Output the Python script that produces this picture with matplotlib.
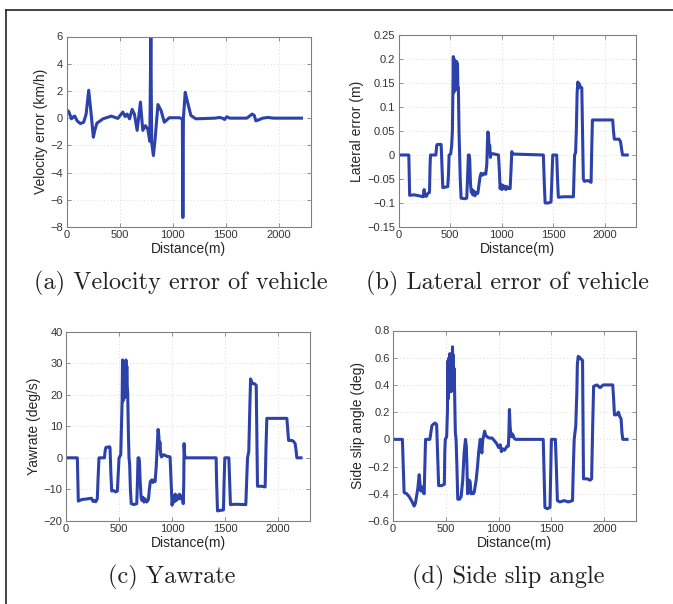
import matplotlib
matplotlib.use("Agg")
import matplotlib.pyplot as plt
from matplotlib.lines import Line2D

plt.rcParams["font.family"] = ["Liberation Sans", "DejaVu Sans"]

# ---------------- data ----------------
dist_ticks = [0, 500, 1000, 1500, 2000]
dist_tick_labels = ["0", "500", "1000", "1500", "2000"]

# (a) velocity error of vehicle (km/h)
vel_dist = [0, 20, 47, 65, 78, 100, 131, 162, 185, 209, 230, 253, 270, 287, 344,
            422, 484, 531, 553, 572, 594, 619, 640, 666, 697, 719, 744, 766, 785,
            795, 803, 819, 834, 862, 891, 922, 969, 1062, 1092, 1097, 1102, 1119,
            1141, 1172, 1219, 1400, 1440, 1470, 1490, 1510, 1540, 1700, 1750, 1770,
            1785, 1820, 1850, 1900, 1950, 2215]
vel_err = [0.6, 0.5, -0.05, 0.1, 0.15, -0.2, -0.4, -0.3, 0.3, 2.05, 0.5, -1.4,
           -0.8, -0.37, -0.05, 0.15, -0.02, 0.45, 0.12, 0.3, -0.05, 0.64, 0.3, -0.9,
           1.18, -0.9, -0.55, -0.8, -1.7, 5.95, -1.8, -2.75, -1.65, 1.0, 0.57, -0.3,
           0.03, 0.03, -0.05, -7.3, 0.0, 1.9, 1.18, 0.2, -0.05, 0.0, 0.05, 0.0, -0.1,
           0.1, 0.0, 0.0, 0.3, 0.2, -0.2, -0.1, 0.0, 0.05, 0.0, 0.0]

# (b) lateral error of vehicle (m)
lat_dist = [0, 100, 108, 150, 200, 240, 248, 256, 270, 284, 300, 306, 310, 362, 370,
            377, 413, 420, 429, 450, 477, 484, 490, 505, 515, 522, 527, 531, 535, 539,
            543, 547, 551, 555, 559, 563, 567, 571, 575, 580, 586, 592, 598, 606, 640,
            661, 668, 677, 685, 690, 697, 705, 712, 720, 730, 740, 752, 768, 780, 790,
            800, 815, 830, 845, 855, 862, 866, 872, 878, 884, 890, 897, 930, 968, 976,
            984, 992, 1000, 1010, 1020, 1030, 1040, 1050, 1060, 1070, 1081, 1090, 1097,
            1105, 1403, 1412, 1420, 1450, 1477, 1485, 1494, 1532, 1540, 1548, 1600,
            1694, 1700, 1705, 1715, 1722, 1730, 1737, 1745, 1752, 1760, 1775, 1782,
            1790, 1800, 1830, 1850, 1865, 1870, 1878, 2074, 2082, 2090, 2120, 2135,
            2150, 2162, 2170, 2215]
lat_err = [0, 0, -0.084, -0.083, -0.085, -0.087, -0.072, -0.085, -0.086, -0.08,
           -0.078, -0.02, 0, 0, 0.02, 0.022, 0.022, -0.02, -0.068, -0.067, -0.066,
           -0.04, 0, 0.002, 0.02, 0.05, 0.13, 0.205, 0.13, 0.2, 0.14, 0.19, 0.135,
           0.18, 0.14, 0.195, 0.14, 0.19, 0.14, 0.14, 0.05, 0.0, -0.05, -0.09, -0.091,
           -0.09, -0.05, 0, 0.0, -0.01, -0.06, -0.078, -0.072, -0.083, -0.075, -0.085,
           -0.078, -0.08, -0.06, -0.045, -0.038, -0.042, -0.038, -0.04, -0.02, 0.03,
           0.048, 0.04, 0.015, 0.02, -0.005, 0.003, 0.002, 0.0, -0.03, -0.07, -0.062,
           -0.072, -0.063, -0.07, -0.065, -0.072, -0.066, -0.07, -0.068, -0.07, -0.03,
           0.007, 0.002, 0, -0.06, -0.1, -0.1, -0.098, -0.05, 0, 0, -0.05, -0.088,
           -0.087, -0.087, -0.04, 0, 0.005, 0.05, 0.13, 0.152, 0.14, 0.148, 0.142,
           0.14, 0.05, -0.05, -0.055, -0.053, -0.055, -0.057, 0.0, 0.073, 0.073, 0.05,
           0.033, 0.033, 0.033, 0.028, 0.01, 0.0, 0.0]

# (c) yawrate (deg/s)
yaw_dist = [0, 107, 112, 116, 150, 200, 240, 255, 270, 280, 295, 303, 311, 362, 370,
            377, 410, 415, 423, 431, 450, 470, 484, 492, 500, 516, 524, 529, 533, 537,
            541, 545, 549, 553, 557, 561, 565, 569, 573, 577, 582, 588, 594, 600, 607,
            615, 640, 667, 673, 679, 687, 692, 700, 708, 715, 725, 735, 745, 760, 777,
            786, 795, 808, 820, 830, 840, 850, 862, 868, 875, 880, 885, 893, 900, 920,
            950, 981, 990, 1000, 1010, 1020, 1030, 1040, 1050, 1060, 1070, 1085, 1097,
            1105, 1110, 1113, 1118, 1126, 1415, 1420, 1428, 1460, 1484, 1490, 1497,
            1535, 1542, 1550, 1600, 1695, 1703, 1711, 1723, 1732, 1740, 1750, 1760,
            1774, 1793, 1800, 1805, 1840, 1877, 1885, 1893, 2082, 2090, 2098, 2130,
            2145, 2160, 2170, 2176, 2215]
yaw_rate = [0, 0, -8, -13.7, -13.2, -13, -12.8, -13.8, -13.5, -13.9, -13, -6, 0, 0,
            2.5, 3.3, 3.5, 3.2, -5, -10.5, -10.4, -10.8, -10.5, -5, 0, 1, 12, 18, 31,
            18, 29, 19, 30, 19, 28, 20, 31, 21, 29, 23, 20, 8, 0, -2, -10, -14.5,
            -14.8, -14.5, -8, 0, 0, -1, -8, -12.5, -13.5, -12.5, -14, -13, -14, -13.2,
            -10, -7.5, -7, -7.8, -7, -7.5, -3, 5, 9, 7, 3, 5, 1, 0.3, 1, 0.5, 0.3, -7,
            -15, -12, -14, -11.5, -13.5, -12, -13, -11.5, -13, -12, -14.5, -8, 4.5, 1,
            0, 0, -8, -16.8, -16.6, -16.5, -8, 0, 0, -7, -14.8, -14.7, -14.8, -7, 0, 2,
            15, 25, 24, 23.5, 23.5, 23, 5, -9, -9, -9.2, 3, 12.5, 12.5, 9, 5.5, 5.5,
            5.2, 4.5, 2, 0, 0]

# (d) side slip angle (deg)
slip_dist = [0, 89, 97, 105, 130, 152, 175, 200, 212, 222, 235, 248, 256, 264, 272,
             279, 287, 295, 302, 308, 349, 358, 368, 380, 397, 413, 422, 432, 460, 486,
             490, 495, 508, 515, 521, 525, 530, 534, 538, 542, 546, 550, 555, 559, 563,
             567, 571, 575, 579, 584, 590, 597, 605, 613, 630, 645, 660, 673, 686, 694,
             700, 706, 715, 722, 730, 738, 746, 760, 768, 787, 800, 810, 825, 833, 841,
             850, 857, 867, 877, 889, 910, 937, 960, 980, 1000, 1015, 1026, 1040, 1055,
             1064, 1080, 1092, 1097, 1102, 1108, 1118, 1128, 1137, 1145, 1159, 1422,
             1430, 1438, 1460, 1486, 1492, 1499, 1537, 1546, 1556, 1580, 1620, 1660,
             1699, 1707, 1715, 1730, 1740, 1745, 1753, 1770, 1780, 1794, 1798, 1803,
             1840, 1865, 1880, 1890, 1899, 1930, 1960, 1990, 2040, 2080, 2088, 2096,
             2115, 2134, 2145, 2159, 2167, 2175, 2215]
slip_angle = [0, 0, -0.2, -0.39, -0.4, -0.42, -0.45, -0.49, -0.47, -0.42, -0.36,
              -0.26, -0.33, -0.38, -0.36, -0.35, -0.39, -0.4, -0.2, 0, 0, 0.05, 0.1,
              0.11, 0.12, 0.11, -0.1, -0.34, -0.34, -0.33, -0.1, 0, 0.02, 0.2, 0.58,
              0.3, 0.6, 0.35, 0.63, 0.4, 0.6, 0.35, 0.6, 0.45, 0.68, 0.45, 0.62, 0.4,
              0.52, 0.3, 0.05, 0, -0.2, -0.44, -0.44, -0.42, -0.3, -0.1, 0, -0.05,
              -0.2, -0.4, -0.38, -0.3, -0.31, -0.4, -0.39, -0.4, -0.39, -0.3, -0.2,
              -0.1, 0, -0.05, -0.1, 0, 0.02, 0.06, 0.03, 0.02, 0.01, 0.01, -0.01,
              -0.03, -0.06, -0.04, -0.09, -0.07, -0.08, -0.07, -0.05, -0.05, 0.05,
              0.22, 0.1, 0.02, 0.04, 0.03, 0.01, 0, 0, -0.25, -0.5, -0.51, -0.5,
              -0.25, 0, 0, -0.2, -0.45, -0.46, -0.45, -0.46, -0.45, -0.2, 0, 0.1,
              0.35, 0.55, 0.61, 0.6, 0.59, 0.58, 0.2, -0.29, -0.29, -0.3, -0.29, 0.1,
              0.39, 0.4, 0.38, 0.4, 0.4, 0.4, 0.3, 0.18, 0.18, 0.2, 0.17, 0.15, 0.05,
              0, 0]

vel_ticks = [-8, -6, -4, -2, 0, 2, 4, 6]
lat_ticks = [-0.15, -0.1, -0.05, 0, 0.05, 0.1, 0.15, 0.2, 0.25]
yaw_ticks = [-20, -10, 0, 10, 20, 30, 40]
slip_ticks = [-0.6, -0.4, -0.2, 0, 0.2, 0.4, 0.6, 0.8]

# ---------------- figure ----------------
W, H = 673, 604
fig = plt.figure(figsize=(W / 100, H / 100), dpi=100)
fig.patch.set_facecolor("white")

LINE_COLOR = "#2d41aa"
SPINE_COLOR = "#808080"
TEXT_COLOR = "#262626"


def px_rect(left, top, right, bottom):
    return [left / W, 1 - bottom / H, (right - left) / W, (bottom - top) / H]


def tick_text(v):
    s = f"{v:g}"
    return s.replace("-", "\u2212")


panels = [
    (px_rect(66.5, 36.5, 310.5, 227), vel_dist, vel_err, vel_ticks,
     "Velocity error (km/h)", "(a) Velocity error of vehicle", (181, 283)),
    (px_rect(398.5, 35, 636, 227), lat_dist, lat_err, lat_ticks,
     "Lateral error (m)", "(b) Lateral error of vehicle", (508, 283)),
    (px_rect(66, 331.5, 310, 521), yaw_dist, yaw_rate, yaw_ticks,
     "Yawrate (deg/s)", "(c) Yawrate", (172, 577)),
    (px_rect(393, 330.5, 636, 521), slip_dist, slip_angle, slip_ticks,
     "Side slip angle (deg)", "(d) Side slip angle", (508, 577)),
]

for rect, xs, ys, yt, ylab, caption, cap_xy in panels:
    ax = fig.add_axes(rect)
    ax.plot(xs, ys, color=LINE_COLOR, lw=2.2, solid_joinstyle="round")
    ax.set_xlim(0, 2300)
    ax.set_ylim(yt[0], yt[-1])
    ax.set_xticks(dist_ticks)
    ax.set_xticklabels(dist_tick_labels)
    ax.set_yticks(yt)
    ax.set_yticklabels([tick_text(v) for v in yt])
    ax.grid(True, linestyle=(0, (1, 3)), color="#cfcfcf", linewidth=0.6)
    ax.tick_params(direction="in", length=3, width=0.6, top=True, right=True,
                   colors=SPINE_COLOR, labelcolor="#333333", labelsize=8, pad=2.5)
    for sp in ax.spines.values():
        sp.set_color(SPINE_COLOR)
        sp.set_linewidth(0.8)
    ax.set_xlabel("Distance(m)", fontsize=10, color=TEXT_COLOR, labelpad=1)
    ax.set_ylabel(ylab, fontsize=10, color=TEXT_COLOR, labelpad=2)
    fig.text(cap_xy[0] / W, 1 - cap_xy[1] / H, caption, ha="center", va="center",
             fontsize=17.5, family="cmr10", color="#222222")

# outer frame: top and left rules
fig.add_artist(Line2D([5.5 / W, 1.0], [1 - 10 / H, 1 - 10 / H], color="#222222",
                      lw=1.2, transform=fig.transFigure))
fig.add_artist(Line2D([5.5 / W, 5.5 / W], [0.0, 1 - 10 / H], color="#222222",
                      lw=1.2, transform=fig.transFigure))

fig.savefig("out.png", dpi=100)
